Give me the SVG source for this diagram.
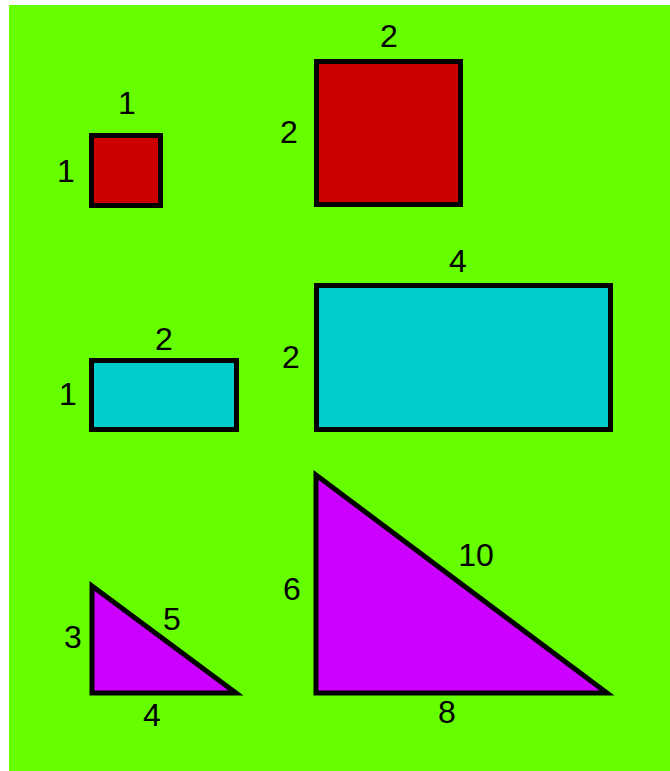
<svg xmlns="http://www.w3.org/2000/svg" width="670" height="771" viewBox="0 0 670 771">
<style>
.shape{stroke:#000;stroke-width:5;stroke-linejoin:miter;stroke-miterlimit:10}
.red{fill:#CC0000}
.cyan{fill:#00CCCC}
.mag{fill:#CC00FF}
text{font-family:"Liberation Sans",Arial,sans-serif;font-size:32px;fill:#000;text-anchor:middle}
</style>
<rect x="0" y="0" width="670" height="771" fill="#fff"/>
<rect x="9" y="5" width="661" height="766" fill="#66FF00"/>
<g id="small-square">
<rect class="shape red" x="91.5" y="135.5" width="69" height="70"/>
<text x="127" y="114">1</text>
<text x="66" y="182">1</text>
</g>
<g id="big-square">
<rect class="shape red" x="316.5" y="61.5" width="144" height="143"/>
<text x="389" y="47">2</text>
<text x="289" y="143">2</text>
</g>
<g id="small-rect">
<rect class="shape cyan" x="91.5" y="360.5" width="145" height="69"/>
<text x="164" y="350">2</text>
<text x="68" y="405">1</text>
</g>
<g id="big-rect">
<rect class="shape cyan" x="316.5" y="285.5" width="294" height="144"/>
<text x="458" y="272">4</text>
<text x="291" y="368">2</text>
</g>
<g id="small-triangle">
<polygon class="shape mag" points="92,586 92,693 236,693"/>
<text x="73" y="648">3</text>
<text x="172" y="630">5</text>
<text x="152" y="726">4</text>
</g>
<g id="big-triangle">
<polygon class="shape mag" points="316,475 316,693 607,693"/>
<text x="292" y="600">6</text>
<text x="476" y="566">10</text>
<text x="447" y="723">8</text>
</g>
</svg>
